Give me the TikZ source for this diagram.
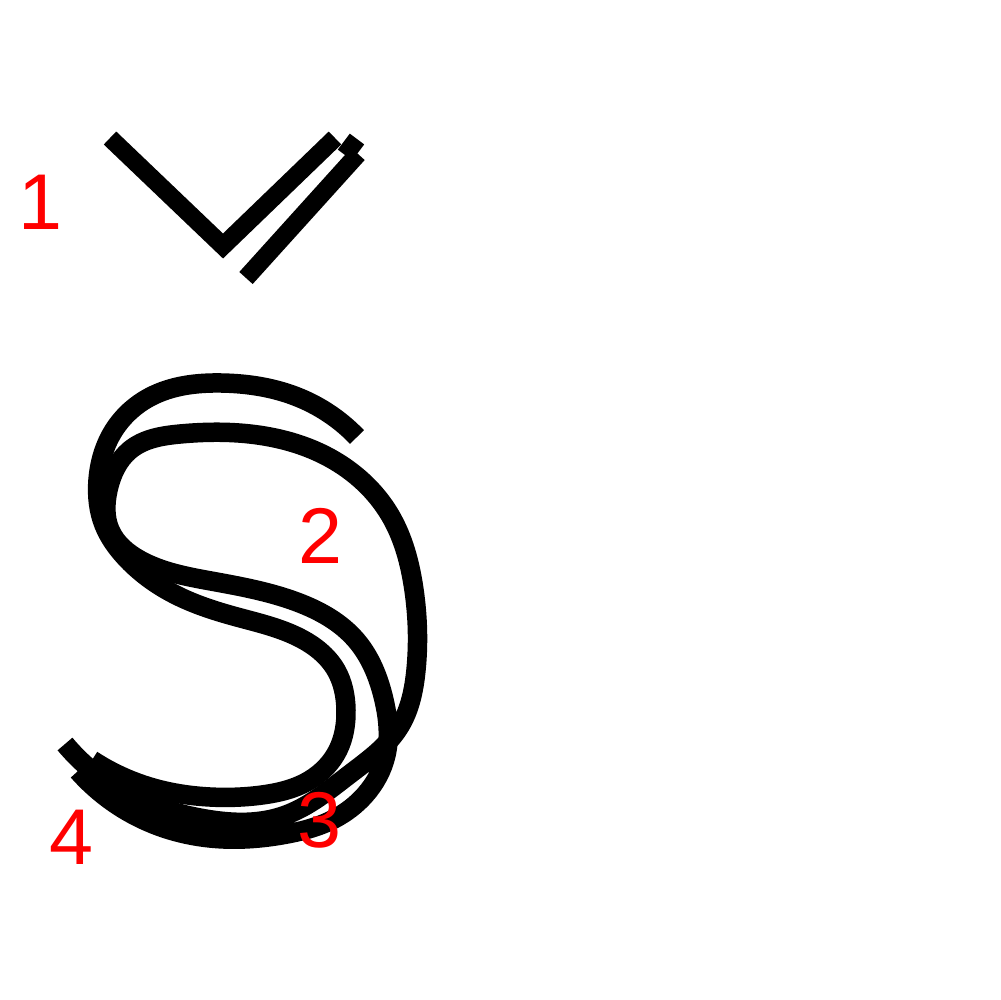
\documentclass[tikz,border=0pt]{standalone}
\usepackage{fontspec}
\setmainfont{Liberation Sans}
\usetikzlibrary{hobby}
\begin{document}
\begin{tikzpicture}[x=0.1mm,y=-0.1mm,
  ink/.style={line width=1.95mm, black, line cap=butt, use Hobby shortcut},
  inkv/.style={line width=1.8mm, black, line cap=butt, line join=miter},
  numlabel/.style={text=red, font=\fontsize{22.5}{26}\selectfont, inner sep=0pt, anchor=base}]
\useasboundingbox (0,0) rectangle (1000,1000);
\fill[white] (0,0) rectangle (1000,1000);
% stroke 1: hacek
\draw[inkv] (110,138) coordinate (v1) -- (223,246) coordinate (v2) -- (335,138) coordinate (v3);
\coordinate (w1) at (357,139);
\coordinate (w2) at (345,155);
\coordinate (w3) at (358,154);
\coordinate (w4) at (246,278);
\draw[inkv] (w1) -- (w2);
\draw[inkv] (w3) -- (w4);
% outer S
\draw[ink] (357,437) .. (300,398) .. (222,383) .. (150,397) .. (114,430)
 .. (98,480) .. (104,525) .. (125,557) .. (174,594) .. (237,617)
 .. (300,638) .. (336,670) .. (346,710) .. (338,750) .. (310,780) .. (262,795) .. (210,797)
 .. (150,787) .. (92,760);
% inner loop S
\draw[ink] (65,744) .. (120,790) .. (200,818) .. (283,816)
 .. (350,774) .. (400,726) .. (416,670) .. (414,590)
 .. (390,515) .. (330,458) .. (250,434) .. (180,434) .. (130,450)
 .. (108,490) .. (110,530) .. (140,560) .. (211,581) .. (297,602)
 .. (356,640) .. (384,700) .. (386,755) .. (365,795) .. (334,819) .. (287,834)
 .. (210,838) .. (153,824) .. (78,771);
% labels
\node[numlabel] (n1) at (40,229) {1};
\node[numlabel] (n2) at (320,563) {2};
\node[numlabel] (n3) at (319,847) {3};
\node[numlabel] (n4) at (71,864) {4};
\end{tikzpicture}
\end{document}
